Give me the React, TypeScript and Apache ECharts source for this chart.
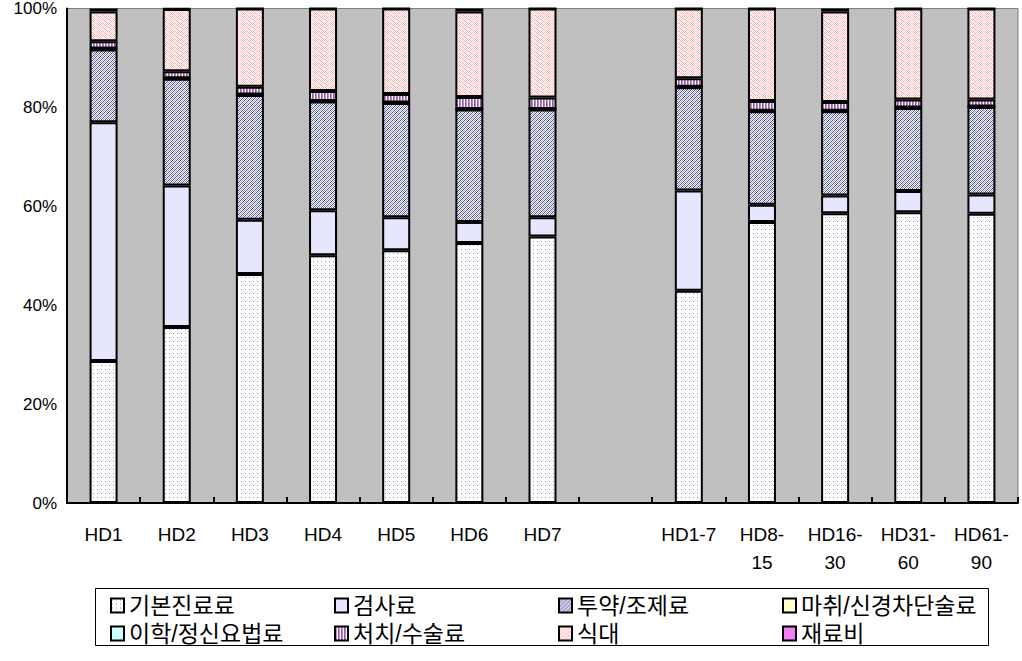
import React, { useEffect, useRef } from "react";
import * as echarts from "echarts";

const categories = ["HD1", "HD2", "HD3", "HD4", "HD5", "HD6", "HD7", "", "HD1-7", "HD8-15", "HD16-30", "HD31-60", "HD61-90"];
const seriesNames = ["기본진료료", "검사료", "투약/조제료", "마취/신경차단술료", "이학/정신요법료", "처치/수술료", "식대", "재료비"];
const basicFee = [28.7, 35.6, 46.3, 50.1, 51.1, 52.6, 53.9, null, 42.9, 56.8, 58.6, 58.8, 58.5];
const examFee = [48.3, 28.6, 11.0, 9.1, 6.7, 4.2, 3.9, null, 20.3, 3.5, 3.6, 4.3, 3.9];
const medicationFee = [14.7, 21.6, 25.2, 22.0, 23.1, 22.8, 21.8, null, 20.9, 18.9, 17.0, 16.8, 17.7];
const anesthesiaFee = [0.1, 0.1, 0.1, 0.1, 0.1, 0.1, 0.1, null, 0.1, 0.1, 0.1, 0.1, 0.1];
const therapyFee = [0.1, 0, 0, 0, 0, 0, 0, null, 0, 0, 0, 0, 0];
const procedureFee = [1.5, 1.4, 1.6, 2.0, 1.7, 2.4, 2.3, null, 1.7, 2.0, 1.8, 1.6, 1.4];
const mealFee = [6.0, 12.6, 15.8, 16.7, 17.3, 17.3, 18.0, null, 14.1, 18.7, 18.3, 18.4, 18.4];
const materialFee = [0.6, 0.1, 0, 0, 0, 0.6, 0, null, 0, 0, 0.6, 0, 0];
const yTickValues = [0, 20, 40, 60, 80, 100];

function tile(w: number, h: number, base: string, pixels: Array<[number, number, string]>) {
  const c = document.createElement("canvas");
  c.width = w;
  c.height = h;
  const ctx = c.getContext("2d")!;
  ctx.fillStyle = base;
  ctx.fillRect(0, 0, w, h);
  for (const [x, y, col] of pixels) {
    ctx.fillStyle = col;
    ctx.fillRect(x, y, 1, 1);
  }
  return { image: c, repeat: "repeat" } as any;
}

function makeFills() {
  const basic = tile(8, 8, "#FFFFFF", [
    [1, 1, "#4D88E0"], [5, 1, "#A8A8A8"], [1, 5, "#A8A8A8"], [5, 5, "#7AA6EE"], [3, 3, "#E2E2F0"],
  ]);
  const exam = tile(4, 4, "#E4E4FF", [[1, 1, "#F6F6FF"], [3, 3, "#F6F6FF"]]);
  const medPix: Array<[number, number, string]> = [];
  for (let y = 0; y < 4; y++)
    for (let x = 0; x < 4; x++) if ((x + y) % 2 === 0) medPix.push([x, y, (x + y) % 4 === 0 ? "#4A4AA0" : "#9C9CD2"]);
  const med = tile(4, 4, "#FFFFFF", medPix);
  const anest = "#FFFFCC";
  const therapy = "#CCFFFF";
  const proc = tile(3, 1, "#FFFFFF", [[0, 0, "#9A5AAA"], [1, 0, "#B58CC4"]]);
  const meal = tile(6, 4, "#FFFFFF", [
    [0, 0, "#FFC4C4"], [2, 0, "#FFB0B0"], [4, 0, "#FFC4C4"],
    [1, 1, "#FFD8D8"], [3, 1, "#FF8C8C"], [5, 1, "#FFD8D8"],
    [0, 2, "#FFB8B8"], [2, 2, "#FFD0D0"], [4, 2, "#FFB8B8"],
    [1, 3, "#FF9C9C"], [3, 3, "#FFD8D8"], [5, 3, "#FFC4C4"],
  ]);
  const matPix: Array<[number, number, string]> = [];
  for (let y = 0; y < 2; y++) for (let x = 0; x < 2; x++) if ((x + y) % 2 === 0) matPix.push([x, y, "#E040E0"]);
  const mat = tile(2, 2, "#FFC0FF", matPix);
  return [basic, exam, med, anest, therapy, proc, meal, mat];
}

export default function App() {
  const ref = useRef<HTMLDivElement>(null);
  useEffect(() => {
    if (!ref.current) return;
    const chart = echarts.init(ref.current, null, { renderer: "svg" });
    const fills = makeFills();
    const datasets = [basicFee, examFee, medicationFee, anesthesiaFee, therapyFee, procedureFee, mealFee, materialFee];
    const font = "'Liberation Sans', 'Noto Sans CJK KR', sans-serif";
    chart.setOption({
      animation: false,
      backgroundColor: "#FFFFFF",
      textStyle: { fontFamily: font },
      grid: {
        left: 67,
        right: 4,
        top: 8,
        bottom: 158,
        show: true,
        backgroundColor: "#C0C0C0",
        borderColor: "#808080",
        borderWidth: 1,
      },
      xAxis: {
        type: "category",
        data: categories,
        axisLine: { show: true, lineStyle: { color: "#000000", width: 2 } },
        axisTick: { show: true, inside: true, length: 6, alignWithLabel: false, lineStyle: { color: "#000000", width: 2 } },
        axisLabel: {
          color: "#000000",
          fontSize: 19,
          fontFamily: font,
          margin: 17,
          lineHeight: 28,
          interval: 0,
          formatter: (v: string) => (v.length > 5 ? v.replace(/-/, "-\n") : v),
        },
        splitLine: { show: false },
      },
      yAxis: {
        type: "value",
        min: yTickValues[0],
        max: yTickValues[yTickValues.length - 1],
        interval: 20,
        axisLine: { show: true, lineStyle: { color: "#000000", width: 2 } },
        axisTick: { show: false },
        splitLine: { show: false },
        axisLabel: { color: "#000000", fontSize: 17, fontFamily: font, margin: 10, formatter: "{value}%" },
      },
      legend: {
        left: 110,
        top: 594,
        width: 900,
        padding: 0,
        itemWidth: 13,
        itemHeight: 14,
        itemGap: 5,
        icon: "rect",
        itemStyle: { borderColor: "#000000", borderWidth: 2 },
        textStyle: { color: "#000000", fontSize: 23, fontFamily: font, width: 200, lineHeight: 20 },
        data: seriesNames,
      },
      graphic: [
        {
          type: "rect",
          z: -1,
          shape: { x: 95.5, y: 588.5, width: 893, height: 57 },
          style: { fill: "#FFFFFF", stroke: "#000000", lineWidth: 1 },
        },
      ],
      series: seriesNames.map((name, i) => ({
        name,
        type: "bar",
        stack: "total",
        barWidth: 28,
        data: datasets[i],
        itemStyle: { color: fills[i], borderColor: "#000000", borderWidth: 2 },
        emphasis: { disabled: true },
      })),
    });
    return () => chart.dispose();
  }, []);
  return <div ref={ref} style={{ position: "fixed", left: 0, top: 0, width: 1022, height: 661 }} />;
}
